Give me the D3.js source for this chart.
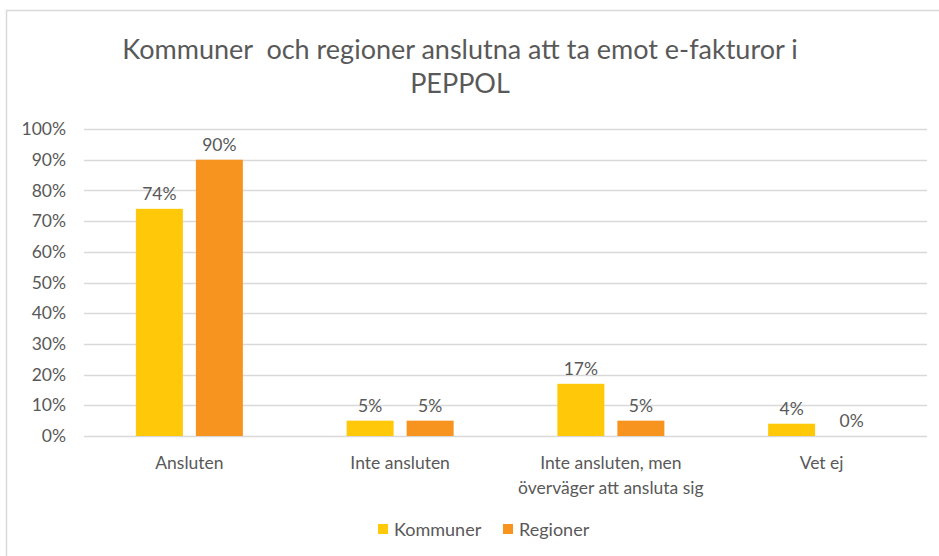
<!DOCTYPE html>
<head>
  <meta charset="utf-8">
  <script src="https://d3js.org/d3.v7.min.js"></script>
  <style>
    body { margin:0; background:#fff; }
    svg { font-family: Lato, "Open Sans", sans-serif; }
    text { fill:#595959; }
  </style>
</head>
<body>
<svg width="939" height="556"></svg>

<script>
  var categories = ["Ansluten", "Inte ansluten", "Inte ansluten, men överväger att ansluta sig", "Vet ej"];
  var series     = ["Kommuner", "Regioner"];
  var kommuner   = [0.74, 0.05, 0.17, 0.04];
  var regioner   = [0.90, 0.05, 0.05, 0.00];
  var yTicks     = [0, 0.1, 0.2, 0.3, 0.4, 0.5, 0.6, 0.7, 0.8, 0.9, 1.0];
  var colors     = ["#FFC90A", "#F7941F"];

  var svg = d3.select("svg");
  var fs = 17.5;

  // chart frame
  svg.append("rect")
    .attr("x", 6.5).attr("y", 10.5)
    .attr("width", 950).attr("height", 560)
    .attr("fill", "none").attr("stroke", "#d9d9d9").attr("stroke-width", 1.5);

  // title
  var title = svg.append("text")
    .attr("text-anchor", "middle")
    .attr("font-size", 27);
  title.append("tspan").attr("x", 460).attr("y", 59)
    .attr("xml:space", "preserve")
    .text("Kommuner  och regioner anslutna att ta emot e-fakturor i");
  title.append("tspan").attr("x", 460).attr("y", 93)
    .text("PEPPOL");

  var x0 = d3.scaleBand().domain(categories).range([84, 927]);
  var y = d3.scaleLinear().domain([0, 1]).range([436, 129]);
  var inner = 107;
  var x1 = d3.scaleBand().domain(series).range([0, inner]).paddingInner(13 / 60);

  // gridlines
  svg.append("g").selectAll("line").data(yTicks).enter().append("line")
    .attr("x1", 84).attr("x2", 927)
    .attr("y1", function(d) { return Math.round(y(d)) + 0.5; })
    .attr("y2", function(d) { return Math.round(y(d)) + 0.5; })
    .attr("stroke", "#d9d9d9").attr("stroke-width", 1.5);

  // y axis labels
  var yAxis = svg.append("g")
    .attr("transform", "translate(66,0)")
    .call(d3.axisLeft(y).tickValues(yTicks).tickFormat(d3.format(".0%")).tickSize(0).tickPadding(0));
  yAxis.select(".domain").remove();
  yAxis.selectAll("text").attr("font-size", fs).attr("fill", "#595959")
    .attr("font-family", "Lato, 'Open Sans', sans-serif");

  var rows = categories.map(function(c, i) {
    return [ {cat: c, s: series[0], v: kommuner[i]}, {cat: c, s: series[1], v: regioner[i]} ];
  });

  var groups = svg.append("g").selectAll("g").data(rows).enter().append("g")
    .attr("transform", function(d) {
      return "translate(" + (x0(d[0].cat) + (x0.bandwidth() - inner) / 2) + ",0)";
    });

  groups.selectAll("rect").data(function(d) { return d; }).enter().append("rect")
    .attr("x", function(d) { return x1(d.s); })
    .attr("width", x1.bandwidth())
    .attr("y", function(d) { return y(d.v); })
    .attr("height", function(d) { return y(0) - y(d.v); })
    .attr("fill", function(d) { return colors[series.indexOf(d.s)]; });

  groups.selectAll("text").data(function(d) { return d; }).enter().append("text")
    .attr("x", function(d) { return x1(d.s) + x1.bandwidth() / 2; })
    .attr("y", function(d) { return y(d.v) - 9; })
    .attr("text-anchor", "middle")
    .attr("font-size", fs)
    .text(function(d) { return d3.format(".0%")(d.v); });

  // category labels, wrapped
  var catLabels = svg.append("g").selectAll("text").data(categories).enter().append("text")
    .attr("text-anchor", "middle")
    .attr("font-size", fs)
    .attr("x", function(d) { return x0(d) + x0.bandwidth() / 2; })
    .attr("y", 469);

  catLabels.each(function(d) {
    var t = d3.select(this), words = d.split(" "), line = [], lines = [];
    var cx = +t.attr("x");
    var tmp = t.append("tspan");
    words.forEach(function(w) {
      line.push(w);
      tmp.text(line.join(" "));
      if (tmp.node().getComputedTextLength() > 200 && line.length > 1) {
        line.pop();
        lines.push(line.join(" "));
        line = [w];
      }
    });
    lines.push(line.join(" "));
    tmp.remove();
    lines.forEach(function(l, i) {
      t.append("tspan").attr("x", cx).attr("dy", i ? 25 : 0).text(l);
    });
  });

  // legend
  var legend = svg.append("g").selectAll("g").data(series).enter().append("g")
    .attr("transform", function(d, i) { return "translate(" + [378 + i * 125, 524] + ")"; });
  legend.append("rect").attr("width", 10).attr("height", 10)
    .attr("fill", function(d, i) { return colors[i]; });
  legend.append("text").attr("x", 16).attr("y", 11.5).attr("font-size", 18)
    .text(function(d) { return d; });
</script>
</body>
